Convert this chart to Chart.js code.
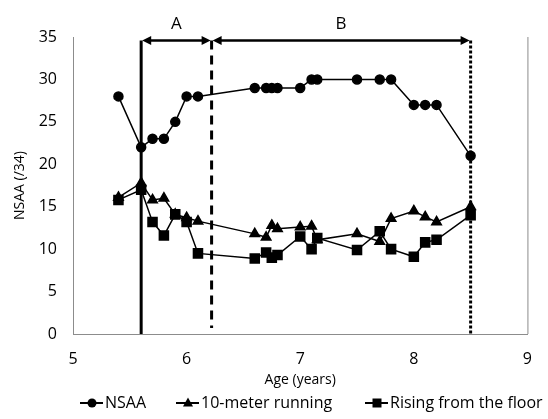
<!DOCTYPE html>
<html>
<head>
<meta charset="utf-8">
<script src="https://cdn.jsdelivr.net/npm/chart.js@4.4.0/dist/chart.umd.min.js"></script>
<style>
  html, body { margin: 0; padding: 0; background: #fff; }
  #wrap { width: 548px; height: 419px; }
</style>
</head>
<body>
<div id="wrap"><canvas id="chart" width="548" height="419"></canvas></div>
<script>
const AGE = [5.4, 5.6, 5.7, 5.8, 5.9, 6.0, 6.1, 6.6, 6.7, 6.75, 6.8, 7.0, 7.1, 7.15, 7.5, 7.7, 7.8, 8.0, 8.1, 8.2, 8.5];
const NSAA = [28, 22, 23, 23, 25, 28, 28, 29, 29, 29, 29, 29, 30, 30, 30, 30, 30, 27, 27, 27, 21];
const RUNNING = [16.1, 17.8, 15.8, 16, 14.1, 13.7, 13.3, 11.8, 11.4, 12.8, 12.4, 12.6, 12.7, 11.1, 11.8, 10.9, 13.6, 14.5, 13.8, 13.2, 15];
const RISING = [15.8, 17, 13.2, 11.6, 14.1, 13.2, 9.5, 8.9, 9.6, 9.0, 9.3, 11.5, 10.0, 11.3, 9.9, 12.1, 10.0, 9.1, 10.8, 11.1, 14];
const X_TICKS = [5, 6, 7, 8, 9];
const PHASE_X = [5.6, 6.22, 8.5];
const PHASE_LABELS = ["A", "B"];
const MARKERS = ["circle", "triangle", "rect"];

const FONT = "'Open Sans', sans-serif";

function toPoints(ys) {
  return AGE.map((x, i) => ({ x, y: ys[i] }));
}

function drawMarker(g, style, x, y) {
  g.beginPath();
  if (style === "circle") {
    g.arc(x, y, 4.5, 0, Math.PI * 2);
  } else if (style === "triangle") {
    g.moveTo(x, y - 5.5);
    g.lineTo(x + 5, y + 3.5);
    g.lineTo(x - 5, y + 3.5);
    g.closePath();
  } else {
    g.rect(x - 4.5, y - 4.5, 9, 9);
  }
  g.fill();
}

const phasePlugin = {
  id: "phases",
  afterDatasetsDraw(chart) {
    const { ctx, chartArea, scales } = chart;
    const xs = scales.x;
    const ys = scales.y;
    const top = ys.getPixelForValue(34.6);
    const bottom = chartArea.bottom;
    const px = PHASE_X.map((v) => xs.getPixelForValue(v));

    ctx.save();
    // right frame line
    ctx.strokeStyle = "#8c8c8c";
    ctx.lineWidth = 1;
    ctx.beginPath();
    ctx.moveTo(chartArea.right + 0.5, chartArea.top);
    ctx.lineTo(chartArea.right + 0.5, chartArea.bottom);
    ctx.stroke();

    ctx.strokeStyle = "#000";
    ctx.fillStyle = "#000";
    ctx.lineWidth = 3;
    const dashes = [[], [9, 6], [3, 2]];
    px.forEach((x, i) => {
      ctx.setLineDash(dashes[i]);
      ctx.beginPath();
      ctx.moveTo(x, top);
      ctx.lineTo(x, i === 1 ? bottom - 6 : bottom);
      ctx.stroke();
    });
    ctx.setLineDash([]);

    function arrowHead(x, dir) {
      ctx.beginPath();
      ctx.moveTo(x, top);
      ctx.lineTo(x - dir * 9, top - 4.5);
      ctx.lineTo(x - dir * 9, top + 4.5);
      ctx.closePath();
      ctx.fill();
    }

    ctx.lineWidth = 2.5;
    ctx.font = "17px " + FONT;
    ctx.textAlign = "center";
    ctx.textBaseline = "middle";
    for (let i = 0; i < 2; i++) {
      const a = px[i] + 1;
      const b = px[i + 1] - 1;
      ctx.beginPath();
      ctx.moveTo(a + 6, top);
      ctx.lineTo(b - 6, top);
      ctx.stroke();
      arrowHead(a, -1);
      arrowHead(b, 1);
      ctx.fillText(PHASE_LABELS[i], (px[i] + px[i + 1]) / 2, top - 16);
    }
    ctx.restore();
  },
  // legend below the axis title: line with marker, then label
  afterDraw(chart) {
    const { ctx } = chart;
    const y = 403;
    const starts = [80, 176, 365];
    ctx.save();
    ctx.fillStyle = "#000";
    ctx.strokeStyle = "#000";
    ctx.lineWidth = 2;
    ctx.font = "16px " + FONT;
    ctx.textBaseline = "middle";
    chart.data.datasets.forEach((d, i) => {
      const x = starts[i];
      ctx.beginPath();
      ctx.moveTo(x, y);
      ctx.lineTo(x + 23, y);
      ctx.stroke();
      drawMarker(ctx, MARKERS[i], x + 12, y);
      ctx.fillText(d.label, x + 25, y);
    });
    ctx.restore();
  },
};

const common = {
  borderColor: "#000",
  backgroundColor: "#000",
  pointBackgroundColor: "#000",
  pointBorderColor: "#000",
  borderWidth: 1.5,
  tension: 0,
};

new Chart(document.getElementById("chart"), {
  type: "line",
  data: {
    datasets: [
      { ...common, label: "NSAA", data: toPoints(NSAA), pointStyle: MARKERS[0], pointRadius: 4.5 },
      { ...common, label: "10-meter running", data: toPoints(RUNNING), pointStyle: MARKERS[1], pointRadius: 5.5 },
      { ...common, label: "Rising from the floor", data: toPoints(RISING), pointStyle: MARKERS[2], pointRadius: 6.4 },
    ],
  },
  options: {
    responsive: false,
    animation: false,
    layout: { padding: { top: 37, right: 14, bottom: 27, left: 0 } },
    plugins: {
      tooltip: { enabled: false },
      legend: { display: false },
    },
    scales: {
      x: {
        type: "linear",
        min: 5,
        max: 9,
        afterBuildTicks(scale) {
          scale.ticks = X_TICKS.map((v) => ({ value: v }));
        },
        afterFit(scale) {
          scale.height = 58;
        },
        grid: { display: false, drawTicks: false },
        border: { color: "#8c8c8c", width: 1 },
        ticks: { color: "#000", font: { family: FONT, size: 16 }, padding: 16 },
        title: { display: true, text: "Age (years)", color: "#000", font: { family: FONT, size: 14 }, padding: { top: 0 } },
      },
      y: {
        min: 0,
        max: 35,
        afterFit(scale) {
          scale.width = 73;
        },
        grid: { display: false, drawTicks: false },
        border: { color: "#8c8c8c", width: 1 },
        ticks: { stepSize: 5, color: "#000", font: { family: FONT, size: 16 }, padding: 16 },
        title: { display: true, text: "NSAA (/34)", color: "#000", font: { family: FONT, size: 14 }, padding: { top: 12, bottom: 4 } },
      },
    },
  },
  plugins: [phasePlugin],
});
</script>
</body>
</html>
